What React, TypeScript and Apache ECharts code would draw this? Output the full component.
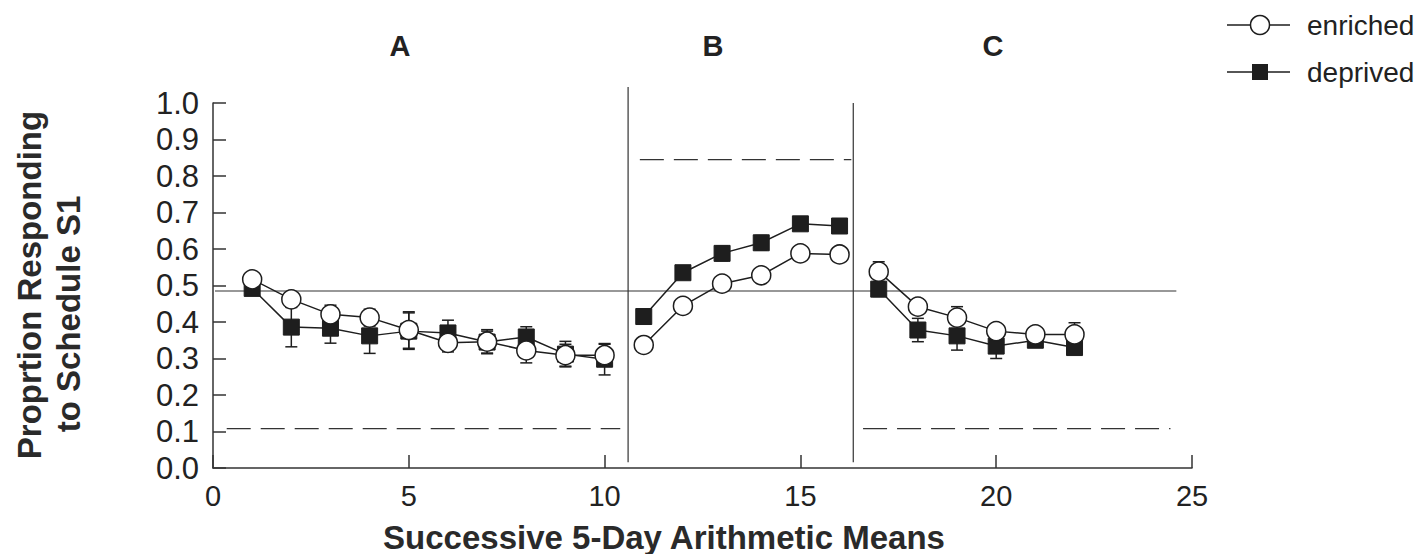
import React, { useEffect, useRef } from "react";
import * as echarts from "echarts";

// Session index (successive 5-day means) for each phase
const phaseLabels = ["A", "B", "C"];
const phaseSessions = [
  [1, 2, 3, 4, 5, 6, 7, 8, 9, 10],
  [11, 12, 13, 14, 15, 16],
  [17, 18, 19, 20, 21, 22],
];

// Proportion responding to schedule S1, per session
const enriched = [
  0.517, 0.462, 0.421, 0.412, 0.378, 0.343, 0.346, 0.322, 0.309, 0.309,
  0.337, 0.444, 0.505, 0.528, 0.588, 0.585,
  0.538, 0.442, 0.412, 0.375, 0.366, 0.366,
];
const enrichedErr = [
  0.01, 0.015, 0.025, 0.023, 0.05, 0.025, 0.033, 0.034, 0.03, 0.03,
  0.01, 0.01, 0.015, 0.01, 0.01, 0.01,
  0.027, 0.02, 0.03, 0.015, 0.012, 0.032,
];
const deprived = [
  0.492, 0.386, 0.383, 0.362, 0.375, 0.37, 0.345, 0.359, 0.312, 0.298,
  0.415, 0.535, 0.588, 0.617, 0.669, 0.663,
  0.49, 0.378, 0.362, 0.334, 0.35, 0.33,
];
const deprivedErr = [
  0.01, 0.054, 0.041, 0.048, 0.05, 0.035, 0.03, 0.028, 0.035, 0.043,
  0.01, 0.01, 0.02, 0.02, 0.01, 0.018,
  0.02, 0.032, 0.039, 0.034, 0.01, 0.01,
];

// Indifference level (solid) and schedule-predicted levels per phase (dashed)
const indifferenceLine = [
  [0.05, 0.485],
  [24.6, 0.485],
];
const predictedLines = [
  [[0.35, 0.108], [10.4, 0.108]],
  [[10.9, 0.845], [16.3, 0.845]],
  [[16.6, 0.108], [24.45, 0.108]],
];
// Phase boundaries
const phaseDividers = [
  [[10.6, 0.016], [10.6, 1.044]],
  [[16.35, 0.016], [16.35, 1.0]],
];

const xTicks = { min: 0, max: 25, interval: 5 };
const yTicks = { min: 0, max: 1, interval: 0.1 };

const FONT = "'Liberation Sans', Arial, Helvetica, sans-serif";
const INK = "#1e1e1e";

function errorBarSeries(values: number[], errs: number[], z: number) {
  const sessions = phaseSessions.flat();
  return {
    type: "custom",
    z,
    silent: true,
    encode: { x: 0, y: 1 },
    data: sessions.map((s, i) => [s, values[i], errs[i]]),
    renderItem: (_params: any, api: any) => {
      const x = api.value(0);
      const y = api.value(1);
      const e = api.value(2);
      const top = api.coord([x, y + e]);
      const bot = api.coord([x, y - e]);
      const w = 6;
      const style = { stroke: INK, lineWidth: 1.5 };
      return {
        type: "group",
        children: [
          { type: "line", shape: { x1: top[0], y1: top[1], x2: bot[0], y2: bot[1] }, style },
          { type: "line", shape: { x1: top[0] - w, y1: top[1], x2: top[0] + w, y2: top[1] }, style },
          { type: "line", shape: { x1: bot[0] - w, y1: bot[1], x2: bot[0] + w, y2: bot[1] }, style },
        ],
      };
    },
  };
}

function groupSeries(values: number[], kind: "enriched" | "deprived") {
  const sessions = phaseSessions.flat();
  return phaseSessions.map((group) => ({
    type: "line",
    name: kind,
    z: kind === "enriched" ? 4 : 3,
    silent: true,
    symbol: kind === "enriched" ? "circle" : "rect",
    symbolSize: kind === "enriched" ? 19 : 16,
    lineStyle: { color: INK, width: 1.5 },
    itemStyle:
      kind === "enriched"
        ? { color: "#ffffff", borderColor: INK, borderWidth: 1.5 }
        : { color: INK, borderColor: INK, borderWidth: 1 },
    data: group.map((s) => [s, values[sessions.indexOf(s)]]),
  }));
}

function refLine(data: number[][], dashed: boolean) {
  return {
    type: "line",
    z: 1,
    silent: true,
    clip: false,
    symbol: "none",
    lineStyle: { color: "#333", width: 1.2, type: dashed ? [24, 10] : "solid" },
    data,
  };
}

export default function App() {
  const ref = useRef<HTMLDivElement>(null);

  useEffect(() => {
    if (!ref.current) return;
    const chart = echarts.init(ref.current, undefined, { renderer: "svg" });

    const phaseTitleX = [400, 713, 993];

    chart.setOption({
      animation: false,
      backgroundColor: "#ffffff",
      grid: { left: 213, top: 103, width: 979, height: 365 },
      xAxis: {
        type: "value",
        ...xTicks,
        axisLine: { show: true, lineStyle: { color: "#333", width: 1.5 } },
        axisTick: { show: true, inside: true, length: 13, lineStyle: { color: "#333", width: 1.5 } },
        axisLabel: { fontFamily: FONT, fontSize: 29, color: "#222", margin: 13 },
        splitLine: { show: false },
      },
      yAxis: {
        type: "value",
        ...yTicks,
        axisLine: { show: true, lineStyle: { color: "#333", width: 1.5 } },
        axisTick: { show: true, inside: true, length: 13, lineStyle: { color: "#333", width: 1.5 } },
        axisLabel: {
          fontFamily: FONT,
          fontSize: 31,
          color: "#222",
          margin: 14,
          formatter: (v: number) => v.toFixed(1),
        },
        splitLine: { show: false },
      },
      series: [
        refLine(indifferenceLine, false),
        ...predictedLines.map((d) => refLine(d, true)),
        ...phaseDividers.map((d) => refLine(d, false)),
        errorBarSeries(deprived, deprivedErr, 2),
        errorBarSeries(enriched, enrichedErr, 2),
        ...groupSeries(deprived, "deprived"),
        ...groupSeries(enriched, "enriched"),
      ],
      graphic: [
        ...phaseLabels.map((label, i) => ({
          type: "text",
          x: phaseTitleX[i],
          y: 46,
          style: {
            text: label,
            fontFamily: FONT,
            fontSize: 29,
            fontWeight: "bold",
            fill: "#222",
            textAlign: "center",
            textVerticalAlign: "middle",
          },
        })),
        {
          type: "text",
          x: 29,
          y: 285,
          rotation: Math.PI / 2,
          style: {
            text: "Proprtion Responding",
            fontFamily: FONT,
            fontSize: 33,
            fontWeight: "bold",
            fill: "#2a2a2a",
            textAlign: "center",
            textVerticalAlign: "middle",
          },
        },
        {
          type: "text",
          x: 68,
          y: 314,
          rotation: Math.PI / 2,
          style: {
            text: "to Schedule S1",
            fontFamily: FONT,
            fontSize: 33,
            fontWeight: "bold",
            fill: "#2a2a2a",
            textAlign: "center",
            textVerticalAlign: "middle",
          },
        },
        {
          type: "text",
          x: 664,
          y: 537,
          style: {
            text: "Successive 5-Day Arithmetic Means",
            fontFamily: FONT,
            fontSize: 33,
            fontWeight: "bold",
            fill: "#2a2a2a",
            textAlign: "center",
            textVerticalAlign: "middle",
          },
        },
        // legend
        {
          type: "group",
          children: [
            { type: "line", shape: { x1: 1227, y1: 25, x2: 1290, y2: 25 }, style: { stroke: INK, lineWidth: 1.5 } },
            { type: "circle", shape: { cx: 1260, cy: 25, r: 9.5 }, style: { fill: "#fff", stroke: INK, lineWidth: 1.5 } },
            {
              type: "text",
              x: 1307,
              y: 25,
              style: { text: "enriched", fontFamily: FONT, fontSize: 28, fill: "#222", textVerticalAlign: "middle" },
            },
            { type: "line", shape: { x1: 1227, y1: 72, x2: 1290, y2: 72 }, style: { stroke: INK, lineWidth: 1.5 } },
            { type: "rect", shape: { x: 1252, y: 64, width: 16, height: 16 }, style: { fill: INK } },
            {
              type: "text",
              x: 1307,
              y: 72,
              style: { text: "deprived", fontFamily: FONT, fontSize: 28, fill: "#222", textVerticalAlign: "middle" },
            },
          ],
        },
      ],
    });

    return () => chart.dispose();
  }, []);

  return (
    <div
      ref={ref}
      style={{ position: "absolute", left: 0, top: 0, width: 1415, height: 554, overflow: "hidden" }}
    />
  );
}
